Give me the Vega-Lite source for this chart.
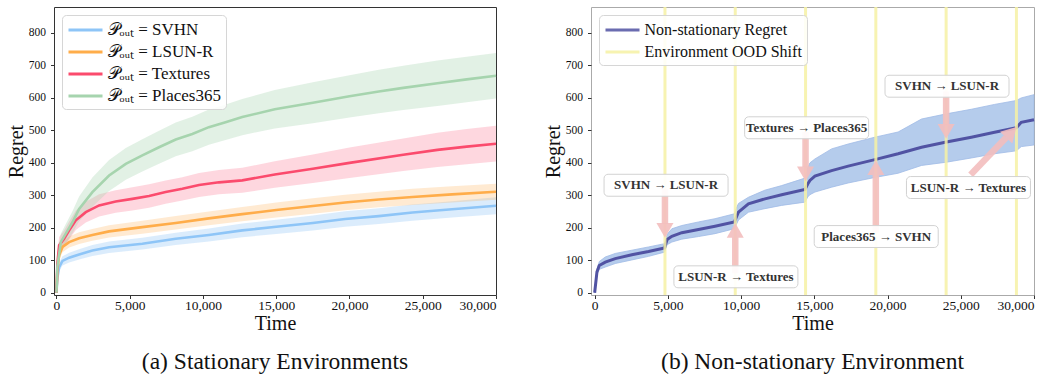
{
  "$schema": "https://vega.github.io/schema/vega-lite/v6.json",
  "padding": {"left": 5, "top": 5, "right": 5, "bottom": 0},
  "background": "white",
  "bounds": "flush",
  "spacing": 95,
  "resolve": {"scale": {"color": "independent"}, "legend": {"color": "independent"}},
  "config": {
    "font": "Liberation Serif",
    "axis": {"grid": false, "domain": false, "tickColor": "#333", "tickSize": 3.5, "labelColor": "#111", "titleColor": "#111", "labelFont": "Liberation Serif", "titleFont": "Liberation Serif", "titleFontWeight": "normal", "titleFontSize": 20},
    "legend": {"labelFont": "Liberation Serif"},
    "title": {"font": "Liberation Serif", "fontSize": 23.5, "fontWeight": "normal", "color": "#111", "anchor": "middle"}
  },
  "datasets": {
    "stationary": [
      {"env": "𝒫ₒᵤₜ = SVHN", "t": 0, "v": 0, "lo": 0, "hi": 0},
      {"env": "𝒫ₒᵤₜ = SVHN", "t": 60, "v": 45, "lo": 35, "hi": 55},
      {"env": "𝒫ₒᵤₜ = SVHN", "t": 180, "v": 79, "lo": 66, "hi": 92},
      {"env": "𝒫ₒᵤₜ = SVHN", "t": 410, "v": 98, "lo": 84, "hi": 112},
      {"env": "𝒫ₒᵤₜ = SVHN", "t": 865, "v": 108, "lo": 93, "hi": 123},
      {"env": "𝒫ₒᵤₜ = SVHN", "t": 1545, "v": 118, "lo": 102, "hi": 134},
      {"env": "𝒫ₒᵤₜ = SVHN", "t": 2450, "v": 130, "lo": 113, "hi": 147},
      {"env": "𝒫ₒᵤₜ = SVHN", "t": 3590, "v": 140, "lo": 122, "hi": 158},
      {"env": "𝒫ₒᵤₜ = SVHN", "t": 5860, "v": 151, "lo": 133, "hi": 169},
      {"env": "𝒫ₒᵤₜ = SVHN", "t": 8140, "v": 166, "lo": 147, "hi": 185},
      {"env": "𝒫ₒᵤₜ = SVHN", "t": 10400, "v": 178, "lo": 158, "hi": 198},
      {"env": "𝒫ₒᵤₜ = SVHN", "t": 12680, "v": 192, "lo": 171, "hi": 213},
      {"env": "𝒫ₒᵤₜ = SVHN", "t": 15000, "v": 203, "lo": 181, "hi": 225},
      {"env": "𝒫ₒᵤₜ = SVHN", "t": 17500, "v": 215, "lo": 192, "hi": 238},
      {"env": "𝒫ₒᵤₜ = SVHN", "t": 19700, "v": 227, "lo": 203, "hi": 251},
      {"env": "𝒫ₒᵤₜ = SVHN", "t": 22000, "v": 236, "lo": 212, "hi": 260},
      {"env": "𝒫ₒᵤₜ = SVHN", "t": 24300, "v": 247, "lo": 222, "hi": 272},
      {"env": "𝒫ₒᵤₜ = SVHN", "t": 27000, "v": 257, "lo": 232, "hi": 282},
      {"env": "𝒫ₒᵤₜ = SVHN", "t": 30000, "v": 268, "lo": 242, "hi": 294},
      {"env": "𝒫ₒᵤₜ = LSUN-R", "t": 0, "v": 0, "lo": 0, "hi": 0},
      {"env": "𝒫ₒᵤₜ = LSUN-R", "t": 60, "v": 70, "lo": 55, "hi": 85},
      {"env": "𝒫ₒᵤₜ = LSUN-R", "t": 180, "v": 115, "lo": 100, "hi": 130},
      {"env": "𝒫ₒᵤₜ = LSUN-R", "t": 410, "v": 141, "lo": 125, "hi": 157},
      {"env": "𝒫ₒᵤₜ = LSUN-R", "t": 865, "v": 156, "lo": 139, "hi": 173},
      {"env": "𝒫ₒᵤₜ = LSUN-R", "t": 1545, "v": 168, "lo": 150, "hi": 186},
      {"env": "𝒫ₒᵤₜ = LSUN-R", "t": 2450, "v": 178, "lo": 160, "hi": 196},
      {"env": "𝒫ₒᵤₜ = LSUN-R", "t": 3590, "v": 189, "lo": 170, "hi": 208},
      {"env": "𝒫ₒᵤₜ = LSUN-R", "t": 5860, "v": 202, "lo": 182, "hi": 222},
      {"env": "𝒫ₒᵤₜ = LSUN-R", "t": 8140, "v": 215, "lo": 195, "hi": 236},
      {"env": "𝒫ₒᵤₜ = LSUN-R", "t": 10400, "v": 229, "lo": 208, "hi": 250},
      {"env": "𝒫ₒᵤₜ = LSUN-R", "t": 12680, "v": 242, "lo": 220, "hi": 264},
      {"env": "𝒫ₒᵤₜ = LSUN-R", "t": 15000, "v": 255, "lo": 232, "hi": 278},
      {"env": "𝒫ₒᵤₜ = LSUN-R", "t": 17500, "v": 267, "lo": 243, "hi": 291},
      {"env": "𝒫ₒᵤₜ = LSUN-R", "t": 19700, "v": 278, "lo": 254, "hi": 302},
      {"env": "𝒫ₒᵤₜ = LSUN-R", "t": 22000, "v": 287, "lo": 263, "hi": 311},
      {"env": "𝒫ₒᵤₜ = LSUN-R", "t": 24300, "v": 295, "lo": 270, "hi": 320},
      {"env": "𝒫ₒᵤₜ = LSUN-R", "t": 27000, "v": 303, "lo": 278, "hi": 328},
      {"env": "𝒫ₒᵤₜ = LSUN-R", "t": 30000, "v": 311, "lo": 286, "hi": 336},
      {"env": "𝒫ₒᵤₜ = Textures", "t": 0, "v": 0, "lo": 0, "hi": 0},
      {"env": "𝒫ₒᵤₜ = Textures", "t": 60, "v": 90, "lo": 60, "hi": 120},
      {"env": "𝒫ₒᵤₜ = Textures", "t": 180, "v": 146, "lo": 120, "hi": 172},
      {"env": "𝒫ₒᵤₜ = Textures", "t": 520, "v": 166, "lo": 140, "hi": 192},
      {"env": "𝒫ₒᵤₜ = Textures", "t": 865, "v": 192, "lo": 165, "hi": 219},
      {"env": "𝒫ₒᵤₜ = Textures", "t": 1320, "v": 223, "lo": 193, "hi": 253},
      {"env": "𝒫ₒᵤₜ = Textures", "t": 2000, "v": 248, "lo": 216, "hi": 280},
      {"env": "𝒫ₒᵤₜ = Textures", "t": 2910, "v": 269, "lo": 235, "hi": 303},
      {"env": "𝒫ₒᵤₜ = Textures", "t": 4040, "v": 281, "lo": 246, "hi": 316},
      {"env": "𝒫ₒᵤₜ = Textures", "t": 5180, "v": 289, "lo": 253, "hi": 325},
      {"env": "𝒫ₒᵤₜ = Textures", "t": 6320, "v": 298, "lo": 262, "hi": 334},
      {"env": "𝒫ₒᵤₜ = Textures", "t": 7450, "v": 310, "lo": 274, "hi": 346},
      {"env": "𝒫ₒᵤₜ = Textures", "t": 8590, "v": 320, "lo": 284, "hi": 356},
      {"env": "𝒫ₒᵤₜ = Textures", "t": 9730, "v": 332, "lo": 295, "hi": 369},
      {"env": "𝒫ₒᵤₜ = Textures", "t": 11090, "v": 340, "lo": 303, "hi": 378},
      {"env": "𝒫ₒᵤₜ = Textures", "t": 12680, "v": 346, "lo": 308, "hi": 385},
      {"env": "𝒫ₒᵤₜ = Textures", "t": 14900, "v": 364, "lo": 323, "hi": 405},
      {"env": "𝒫ₒᵤₜ = Textures", "t": 17500, "v": 382, "lo": 338, "hi": 426},
      {"env": "𝒫ₒᵤₜ = Textures", "t": 20000, "v": 400, "lo": 353, "hi": 447},
      {"env": "𝒫ₒᵤₜ = Textures", "t": 23670, "v": 425, "lo": 375, "hi": 475},
      {"env": "𝒫ₒᵤₜ = Textures", "t": 26000, "v": 440, "lo": 387, "hi": 493},
      {"env": "𝒫ₒᵤₜ = Textures", "t": 28000, "v": 450, "lo": 396, "hi": 504},
      {"env": "𝒫ₒᵤₜ = Textures", "t": 30000, "v": 459, "lo": 404, "hi": 514},
      {"env": "𝒫ₒᵤₜ = Places365", "t": 0, "v": 0, "lo": 0, "hi": 0},
      {"env": "𝒫ₒᵤₜ = Places365", "t": 60, "v": 80, "lo": 55, "hi": 105},
      {"env": "𝒫ₒᵤₜ = Places365", "t": 295, "v": 156, "lo": 130, "hi": 182},
      {"env": "𝒫ₒᵤₜ = Places365", "t": 636, "v": 182, "lo": 152, "hi": 212},
      {"env": "𝒫ₒᵤₜ = Places365", "t": 1090, "v": 217, "lo": 183, "hi": 251},
      {"env": "𝒫ₒᵤₜ = Places365", "t": 1545, "v": 258, "lo": 220, "hi": 296},
      {"env": "𝒫ₒᵤₜ = Places365", "t": 2450, "v": 310, "lo": 265, "hi": 355},
      {"env": "𝒫ₒᵤₜ = Places365", "t": 3590, "v": 361, "lo": 313, "hi": 409},
      {"env": "𝒫ₒᵤₜ = Places365", "t": 4730, "v": 397, "lo": 348, "hi": 446},
      {"env": "𝒫ₒᵤₜ = Places365", "t": 5860, "v": 423, "lo": 373, "hi": 473},
      {"env": "𝒫ₒᵤₜ = Places365", "t": 7000, "v": 448, "lo": 397, "hi": 499},
      {"env": "𝒫ₒᵤₜ = Places365", "t": 8140, "v": 472, "lo": 420, "hi": 524},
      {"env": "𝒫ₒᵤₜ = Places365", "t": 9270, "v": 489, "lo": 436, "hi": 542},
      {"env": "𝒫ₒᵤₜ = Places365", "t": 10400, "v": 510, "lo": 456, "hi": 564},
      {"env": "𝒫ₒᵤₜ = Places365", "t": 11540, "v": 525, "lo": 470, "hi": 580},
      {"env": "𝒫ₒᵤₜ = Places365", "t": 12680, "v": 541, "lo": 485, "hi": 597},
      {"env": "𝒫ₒᵤₜ = Places365", "t": 14900, "v": 565, "lo": 506, "hi": 624},
      {"env": "𝒫ₒᵤₜ = Places365", "t": 17500, "v": 585, "lo": 522, "hi": 648},
      {"env": "𝒫ₒᵤₜ = Places365", "t": 20000, "v": 605, "lo": 540, "hi": 670},
      {"env": "𝒫ₒᵤₜ = Places365", "t": 22000, "v": 620, "lo": 553, "hi": 687},
      {"env": "𝒫ₒᵤₜ = Places365", "t": 23670, "v": 631, "lo": 563, "hi": 699},
      {"env": "𝒫ₒᵤₜ = Places365", "t": 26000, "v": 645, "lo": 575, "hi": 715},
      {"env": "𝒫ₒᵤₜ = Places365", "t": 28000, "v": 657, "lo": 587, "hi": 727},
      {"env": "𝒫ₒᵤₜ = Places365", "t": 30000, "v": 668, "lo": 598, "hi": 738}
    ],
    "nonstat": [
      {"t": 0, "v": 0, "lo": 0, "hi": 0},
      {"t": 157, "v": 64, "lo": 56, "hi": 72},
      {"t": 315, "v": 84, "lo": 72, "hi": 96},
      {"t": 725, "v": 94, "lo": 79, "hi": 110},
      {"t": 1405, "v": 105, "lo": 90, "hi": 121},
      {"t": 2540, "v": 117, "lo": 101, "hi": 131},
      {"t": 3680, "v": 127, "lo": 112, "hi": 141},
      {"t": 4770, "v": 138, "lo": 125, "hi": 151},
      {"t": 4850, "v": 150, "lo": 136, "hi": 164},
      {"t": 4950, "v": 164, "lo": 148, "hi": 180},
      {"t": 5270, "v": 174, "lo": 156, "hi": 197},
      {"t": 5950, "v": 185, "lo": 165, "hi": 207},
      {"t": 7090, "v": 195, "lo": 173, "hi": 218},
      {"t": 8220, "v": 205, "lo": 182, "hi": 228},
      {"t": 9540, "v": 218, "lo": 197, "hi": 243},
      {"t": 9650, "v": 230, "lo": 208, "hi": 258},
      {"t": 9820, "v": 248, "lo": 224, "hi": 275},
      {"t": 10500, "v": 274, "lo": 248, "hi": 294},
      {"t": 11630, "v": 289, "lo": 259, "hi": 316},
      {"t": 12770, "v": 302, "lo": 269, "hi": 330},
      {"t": 14360, "v": 318, "lo": 279, "hi": 353},
      {"t": 14550, "v": 335, "lo": 295, "hi": 385},
      {"t": 14700, "v": 346, "lo": 302, "hi": 400},
      {"t": 15040, "v": 359, "lo": 310, "hi": 412},
      {"t": 16180, "v": 376, "lo": 325, "hi": 443},
      {"t": 17310, "v": 390, "lo": 338, "hi": 458},
      {"t": 19130, "v": 410, "lo": 355, "hi": 479},
      {"t": 20720, "v": 428, "lo": 368, "hi": 495},
      {"t": 22320, "v": 448, "lo": 392, "hi": 535},
      {"t": 24020, "v": 464, "lo": 402, "hi": 551},
      {"t": 25720, "v": 479, "lo": 415, "hi": 565},
      {"t": 27310, "v": 494, "lo": 428, "hi": 580},
      {"t": 28790, "v": 508, "lo": 437, "hi": 592},
      {"t": 29130, "v": 525, "lo": 450, "hi": 600},
      {"t": 30000, "v": 533, "lo": 455, "hi": 610}
    ],
    "shifts": [
      {"t": 4800}, {"t": 9600}, {"t": 14400}, {"t": 19200}, {"t": 24000}, {"t": 28800}
    ],
    "notes": [
      {"label": "SVHN → LSUN-R", "tx": 4875, "tv": 331, "t0": 4800, "v0": 320, "t1": 4800, "v1": 212, "ht": 4800, "hv": 192, "dir": "down"},
      {"label": "LSUN-R → Textures", "tx": 9645, "tv": 49, "t0": 9600, "v0": 60, "t1": 9600, "v1": 171, "ht": 9600, "hv": 192, "dir": "up"},
      {"label": "Textures → Places365", "tx": 14475, "tv": 508, "t0": 14400, "v0": 495, "t1": 14400, "v1": 387, "ht": 14400, "hv": 366, "dir": "down"},
      {"label": "Places365 → SVHN", "tx": 19225, "tv": 173, "t0": 19200, "v0": 185, "t1": 19200, "v1": 363, "ht": 19200, "hv": 385, "dir": "up"},
      {"label": "SVHN → LSUN-R", "tx": 24060, "tv": 636, "t0": 24000, "v0": 620, "t1": 24000, "v1": 515, "ht": 24000, "hv": 497, "dir": "down"},
      {"label": "LSUN-R → Textures", "tx": 25525, "tv": 324, "t0": 25670, "v0": 363, "t1": 28100, "v1": 478, "ht": 28450, "hv": 494, "dir": "diag"}
    ]
  },
  "hconcat": [
    {
      "width": 442,
      "height": 288,
      "view": {"stroke": "#333", "strokeWidth": 1},
      "title": {"text": "(a) Stationary Environments", "orient": "bottom", "offset": 16, "font": "Liberation Serif", "fontSize": 23.5, "fontWeight": "normal", "color": "#111"},
      "data": {"name": "stationary"},
      "encoding": {
        "x": {"field": "t", "type": "quantitative", "title": "Time", "scale": {"domain": [-170, 30000], "nice": false, "zero": false},
              "axis": {"values": [0, 5000, 10000, 15000, 20000, 25000, 30000], "format": ",d", "labelFont": "Liberation Serif", "labelFontSize": 13.5, "labelPadding": 0, "titlePadding": 1.5, "titleFont": "Liberation Serif", "titleFontSize": 20, "titleFontWeight": "normal", "grid": false, "domain": false, "tickSize": 3.5, "tickColor": "#333", "labelColor": "#111", "titleColor": "#111"}},
        "y": {"field": "v", "type": "quantitative", "title": "Regret", "scale": {"domain": [-7, 880], "nice": false, "zero": false},
              "axis": {"values": [0, 100, 200, 300, 400, 500, 600, 700, 800], "format": "d", "labelFont": "Liberation Serif", "labelFontSize": 11.5, "labelPadding": 5, "titlePadding": 2, "titleFont": "Liberation Serif", "titleFontSize": 20, "titleFontWeight": "normal", "grid": false, "domain": false, "tickSize": 3.5, "tickColor": "#333", "labelColor": "#111", "titleColor": "#111"}}
      },
      "layer": [
        {
          "transform": [{"filter": "datum.env === '𝒫ₒᵤₜ = SVHN'"}],
          "mark": {"type": "area", "color": "#8ec5f7", "opacity": 0.32},
          "encoding": {"y": {"field": "lo", "type": "quantitative"}, "y2": {"field": "hi"}}
        },
        {
          "transform": [{"filter": "datum.env === '𝒫ₒᵤₜ = LSUN-R'"}],
          "mark": {"type": "area", "color": "#ffad4a", "opacity": 0.25},
          "encoding": {"y": {"field": "lo", "type": "quantitative"}, "y2": {"field": "hi"}}
        },
        {
          "transform": [{"filter": "datum.env === '𝒫ₒᵤₜ = Textures'"}],
          "mark": {"type": "area", "color": "#fb4b6d", "opacity": 0.22},
          "encoding": {"y": {"field": "lo", "type": "quantitative"}, "y2": {"field": "hi"}}
        },
        {
          "transform": [{"filter": "datum.env === '𝒫ₒᵤₜ = Places365'"}],
          "mark": {"type": "area", "color": "#a6d4ae", "opacity": 0.32},
          "encoding": {"y": {"field": "lo", "type": "quantitative"}, "y2": {"field": "hi"}}
        },
        {
          "mark": {"type": "line", "strokeWidth": 2.6},
          "encoding": {
            "color": {"field": "env", "type": "nominal",
                      "scale": {"domain": ["𝒫ₒᵤₜ = SVHN", "𝒫ₒᵤₜ = LSUN-R", "𝒫ₒᵤₜ = Textures", "𝒫ₒᵤₜ = Places365"], "range": ["#8ec5f7", "#ffad4a", "#fb4b6d", "#a6d4ae"]},
                      "legend": {"orient": "top-left", "offset": 8, "title": null, "symbolType": "M-2,0L2,0", "symbolSize": 289, "symbolOffset": 8.5, "symbolStrokeWidth": 3, "labelFontSize": 17, "labelFont": "Liberation Serif", "labelColor": "#111", "labelOffset": 12, "rowPadding": 4, "padding": 5, "strokeColor": "#d6d6d6", "fillColor": "rgba(255,255,255,0.85)", "cornerRadius": 4, "labelLimit": 400}}
          }
        }
      ]
    },
    {
      "width": 443,
      "height": 288,
      "view": {"stroke": "#aaa", "strokeWidth": 1},
      "title": {"text": "(b) Non-stationary Environment", "orient": "bottom", "offset": 16, "font": "Liberation Serif", "fontSize": 23.5, "fontWeight": "normal", "color": "#111"},
      "encoding": {
        "x": {"field": "t", "type": "quantitative", "title": "Time", "scale": {"domain": [-250, 30000], "nice": false, "zero": false},
              "axis": {"values": [0, 5000, 10000, 15000, 20000, 25000, 30000], "format": ",d", "labelFont": "Liberation Serif", "labelFontSize": 13.5, "labelPadding": 0, "titlePadding": 1.5, "titleFont": "Liberation Serif", "titleFontSize": 20, "titleFontWeight": "normal", "grid": false, "domain": false, "tickSize": 3.5, "tickColor": "#333", "labelColor": "#111", "titleColor": "#111"}},
        "y": {"field": "v", "type": "quantitative", "title": "Regret", "scale": {"domain": [-7, 880], "nice": false, "zero": false},
              "axis": {"values": [0, 100, 200, 300, 400, 500, 600, 700, 800], "format": "d", "labelFont": "Liberation Serif", "labelFontSize": 11.5, "labelPadding": 5, "titlePadding": 2, "titleFont": "Liberation Serif", "titleFontSize": 20, "titleFontWeight": "normal", "grid": false, "domain": false, "tickSize": 3.5, "tickColor": "#333", "labelColor": "#111", "titleColor": "#111"}}
      },
      "layer": [
        {
          "data": {"name": "nonstat"},
          "mark": {"type": "area", "color": "#b2caec", "opacity": 0.95, "stroke": "#9ab8e4", "strokeWidth": 0.8},
          "encoding": {
            "y": {"field": "lo", "type": "quantitative"},
            "y2": {"field": "hi"}
          }
        },
        {
          "data": {"name": "nonstat"},
          "mark": {"type": "line", "strokeWidth": 3},
          "encoding": {
            "color": {"datum": "Non-stationary Regret", "type": "nominal",
                      "scale": {"domain": ["Non-stationary Regret", "Environment OOD Shift"], "range": ["#5153a3", "#f6f1a4"]},
                      "legend": {"orient": "top-left", "offset": 8, "title": null, "symbolType": "M-2,0L2,0", "symbolSize": 289, "symbolOffset": 8.5, "symbolStrokeWidth": 3, "labelFontSize": 16, "labelFont": "Liberation Serif", "labelColor": "#111", "labelOffset": 12, "rowPadding": 4, "padding": 5, "strokeColor": "#d6d6d6", "fillColor": "rgba(255,255,255,0.85)", "cornerRadius": 4, "labelLimit": 400}}
          }
        },
        {
          "data": {"name": "shifts"},
          "mark": {"type": "rule", "strokeWidth": 3, "opacity": 0.85},
          "encoding": {
            "y": null,
            "color": {"datum": "Environment OOD Shift", "type": "nominal"}
          }
        },
        {
          "data": {"name": "notes"},
          "mark": {"type": "rule", "color": "#f3bebe", "strokeWidth": 6.5, "opacity": 0.9},
          "encoding": {
            "x": {"field": "t0", "type": "quantitative"},
            "y": {"field": "v0", "type": "quantitative"},
            "x2": {"field": "t1"},
            "y2": {"field": "v1"}
          }
        },
        {
          "data": {"name": "notes"},
          "transform": [{"filter": "datum.dir === 'down'"}],
          "mark": {"type": "point", "shape": "triangle-down", "size": 290, "filled": true, "color": "#f3bebe", "opacity": 0.9},
          "encoding": {
            "x": {"field": "ht", "type": "quantitative"},
            "y": {"field": "hv", "type": "quantitative"}
          }
        },
        {
          "data": {"name": "notes"},
          "transform": [{"filter": "datum.dir === 'up'"}],
          "mark": {"type": "point", "shape": "triangle-up", "size": 290, "filled": true, "color": "#f3bebe", "opacity": 0.9},
          "encoding": {
            "x": {"field": "ht", "type": "quantitative"},
            "y": {"field": "hv", "type": "quantitative"}
          }
        },
        {
          "data": {"name": "notes"},
          "transform": [{"filter": "datum.dir === 'diag'"}],
          "mark": {"type": "point", "shape": "triangle-up", "angle": 44, "size": 290, "filled": true, "color": "#f3bebe", "opacity": 0.9},
          "encoding": {
            "x": {"field": "ht", "type": "quantitative"},
            "y": {"field": "hv", "type": "quantitative"}
          }
        },
        {
          "data": {"name": "notes"},
          "mark": {"type": "point", "shape": "M-0.935,-0.177L0.935,-0.177A0.065,0.065,0,0,1,1,-0.112L1,0.112A0.065,0.065,0,0,1,0.935,0.177L-0.935,0.177A0.065,0.065,0,0,1,-1,0.112L-1,-0.112A0.065,0.065,0,0,1,-0.935,-0.177Z", "size": 15376, "filled": true, "fill": "white", "fillOpacity": 0.92, "stroke": "#d2d2d2", "strokeWidth": 1, "opacity": 1},
          "encoding": {
            "x": {"field": "tx", "type": "quantitative"},
            "y": {"field": "tv", "type": "quantitative"}
          }
        },
        {
          "data": {"name": "notes"},
          "mark": {"type": "text", "font": "Liberation Serif", "fontSize": 13, "fontWeight": "bold", "color": "#333", "baseline": "middle", "align": "center"},
          "encoding": {
            "x": {"field": "tx", "type": "quantitative"},
            "y": {"field": "tv", "type": "quantitative"},
            "text": {"field": "label"}
          }
        }
      ]
    }
  ]
}
